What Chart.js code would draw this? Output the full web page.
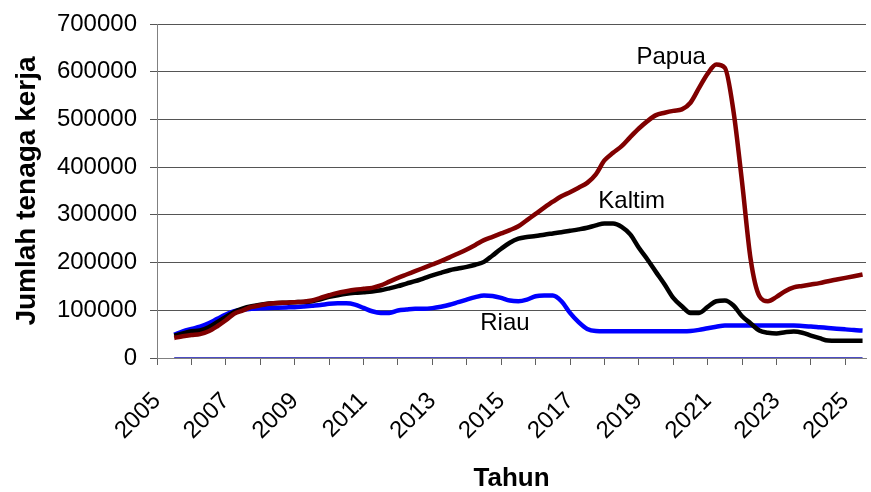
<!DOCTYPE html>
<html>
<head>
<meta charset="utf-8">
<script src="https://cdn.jsdelivr.net/npm/chart.js@4"></script>
<style>
  body { margin: 0; background: #fff; }
  #wrap { width: 871px; height: 492px; }
</style>
</head>
<body>
<div id="wrap"><canvas id="grafik" width="871" height="492"></canvas></div>
<script>
// tahun (per kuartal)
const tahun = [
    2005.5, 2005.75,
    2006, 2006.25, 2006.5, 2006.75,
    2007, 2007.25, 2007.5, 2007.75,
    2008, 2008.25, 2008.5, 2008.75,
    2009, 2009.25, 2009.5, 2009.75,
    2010, 2010.25, 2010.5, 2010.75,
    2011, 2011.25, 2011.5, 2011.75,
    2012, 2012.25, 2012.5, 2012.75,
    2013, 2013.25, 2013.5, 2013.75,
    2014, 2014.25, 2014.5, 2014.75,
    2015, 2015.25, 2015.5, 2015.75,
    2016, 2016.25, 2016.5, 2016.75,
    2017, 2017.25, 2017.5, 2017.75,
    2018, 2018.25, 2018.5, 2018.75,
    2019, 2019.25, 2019.5, 2019.75,
    2020, 2020.25, 2020.5, 2020.75,
    2021, 2021.25, 2021.5, 2021.75,
    2022, 2022.25, 2022.5, 2022.75,
    2023, 2023.25, 2023.5, 2023.75,
    2024, 2024.25, 2024.5, 2024.75,
    2025, 2025.25, 2025.5
];

const papua = [
    42000, 45500,
    48000, 50000, 56000, 66500,
    79000, 93000, 100000, 107000,
    110500, 113500, 115500, 116000,
    117000, 118000, 120500, 126000,
    131500, 136500, 140000, 143000,
    145000, 147000, 152000, 160000,
    168000, 175000, 182000, 189000,
    196000, 203000, 211000, 219000,
    227500, 237000, 247000, 254000,
    261000, 268000, 276000, 289000,
    302000, 315000, 327500, 339000,
    347500, 357000, 367000, 385000,
    414000, 430000, 444000, 463000,
    481000, 496500, 509000, 514000,
    518000, 521000, 535000, 566000,
    596000, 615000, 608000, 517000,
    368000, 206000, 130000, 119000,
    128000, 140000, 148000, 151000,
    154000, 157000, 161000, 164500,
    168000, 171500, 175000
];

const kaltim = [
    47000, 51500,
    56000, 57500, 64500, 75000,
    86000, 97000, 104000, 108500,
    111500, 114000, 115500, 116000,
    117000, 117500, 119000, 123000,
    128000, 131500, 134500, 136500,
    138000, 139500, 142000, 146000,
    150500, 156000, 161000, 167000,
    173000, 178500, 184000, 187500,
    191000, 195500, 201500, 215000,
    229000, 241500, 250000, 253500,
    255500, 258500, 261000, 263500,
    266500, 269500, 273000, 278000,
    282000, 282000, 275000, 259000,
    231000, 206500, 180000, 154000,
    126000, 108500, 94500, 94500,
    107000, 119000, 120500, 110000,
    87500, 72500, 57500, 53000,
    51500, 54000, 55500, 53000,
    47000, 41500, 36500, 36000,
    36000, 36000, 36000
];

const riau = [
    49000, 56000,
    61000, 65500, 72500, 82000,
    91000, 98000, 101000, 103000,
    104000, 105000, 105500, 106000,
    106500, 108000, 109500, 111000,
    113500, 114500, 114500, 112000,
    105000, 98000, 94500, 94500,
    99500, 101500, 103000, 103000,
    104500, 107500, 111500, 117000,
    122500, 127500, 131000, 130000,
    126000, 120500, 119000, 122500,
    129500, 131000, 131000, 119000,
    94500, 75000, 61000, 56500,
    56000, 56000, 56000, 56000,
    56000, 56000, 56000, 56000,
    56000, 56000, 56500, 59000,
    62500, 65500, 68000, 68000,
    68000, 68000, 68000, 68000,
    68000, 68000, 68000, 67000,
    66000, 64500, 63000, 61500,
    60000, 58500, 57500
];

// seri keempat, nol sepanjang waktu
const nol = [
    0, 0,
    0, 0, 0, 0,  0, 0, 0, 0,  0, 0, 0, 0,  0, 0, 0, 0,
    0, 0, 0, 0,  0, 0, 0, 0,  0, 0, 0, 0,  0, 0, 0, 0,
    0, 0, 0, 0,  0, 0, 0, 0,  0, 0, 0, 0,  0, 0, 0, 0,
    0, 0, 0, 0,  0, 0, 0, 0,  0, 0, 0, 0,  0, 0, 0, 0,
    0, 0, 0, 0,  0, 0, 0, 0,  0, 0, 0, 0,
    0, 0, 0
];

const labelTahun = [2005, 2007, 2009, 2011, 2013, 2015, 2017, 2019, 2021, 2023, 2025];

// teks nama provinsi di dalam grafik (tahun, nilai)
const namaSeri = [
    { teks: 'Papua', x: 2019.94, y: 630000 },
    { teks: 'Kaltim', x: 2018.79, y: 328000 },
    { teks: 'Riau', x: 2015.11, y: 73000 }
];

const FONT = '"Liberation Sans", Arial, sans-serif';

const labelPlugin = {
    id: 'namaSeri',
    afterDatasetsDraw(chart) {
        const ctx = chart.ctx;
        const sx = chart.scales.x;
        const sy = chart.scales.y;
        ctx.save();
        ctx.font = '24px ' + FONT;
        ctx.fillStyle = '#000';
        ctx.textAlign = 'center';
        ctx.textBaseline = 'middle';
        namaSeri.forEach(n => {
            ctx.fillText(n.teks, sx.getPixelForValue(n.x), sy.getPixelForValue(n.y));
        });
        ctx.restore();
    }
};

function garis(label, data, color, width) {
    return {
        label: label,
        data: data,
        borderColor: color,
        backgroundColor: color,
        borderWidth: width,
        pointRadius: 0,
        cubicInterpolationMode: 'monotone',
        borderJoinStyle: 'round',
        fill: false
    };
}

const ctx = document.getElementById('grafik').getContext('2d');
new Chart(ctx, {
    type: 'line',
    data: {
        labels: tahun,
        datasets: [
            garis('Papua', papua, '#800000', 4.5),
            garis('Kaltim', kaltim, '#000000', 4.5),
            garis('Riau', riau, '#0000ff', 4.5),
            garis('', nol, '#1010b0', 1.5)
        ]
    },
    options: {
        responsive: false,
        animation: false,
        devicePixelRatio: 1,
        layout: { padding: { left: 0, right: 5, top: 24, bottom: 0 } },
        plugins: {
            legend: { display: false },
            tooltip: { enabled: false }
        },
        scales: {
            x: {
                type: 'linear',
                min: 2005,
                max: 2025.6,
                afterFit: s => {
                    s.height = 134;
                    s.paddingLeft = 0;
                    s.paddingRight = 0;
                },
                border: { display: true, color: '#808080', width: 1 },
                grid: { drawOnChartArea: false, drawTicks: true, tickLength: 7, color: '#606060' },
                ticks: {
                    stepSize: 1,
                    includeBounds: false,
                    autoSkip: false,
                    minRotation: 45,
                    maxRotation: 45,
                    padding: 22,
                    color: '#000',
                    font: { family: FONT, size: 24 },
                    callback: v => labelTahun.includes(v) ? String(v) : ''
                },
                title: {
                    display: true,
                    text: 'Tahun',
                    color: '#000',
                    font: { family: FONT, size: 26, weight: 'bold', lineHeight: 1 },
                    padding: { top: 0, bottom: 0 }
                }
            },
            y: {
                min: 0,
                max: 700000,
                afterFit: s => {
                    s.width = 157;
                    s.paddingTop = 0;
                    s.paddingBottom = 0;
                },
                border: { display: true, color: '#808080', width: 1 },
                grid: { color: '#555', tickLength: 7, drawTicks: true },
                ticks: {
                    stepSize: 100000,
                    padding: 13,
                    color: '#000',
                    font: { family: FONT, size: 24 },
                    callback: v => String(v)
                },
                title: {
                    display: true,
                    text: 'Jumlah tenaga kerja',
                    color: '#000',
                    font: { family: FONT, size: 28, weight: 'bold', lineHeight: 1 },
                    padding: { top: 13, bottom: 0 }
                }
            }
        }
    },
    plugins: [labelPlugin]
});
</script>
</body>
</html>
